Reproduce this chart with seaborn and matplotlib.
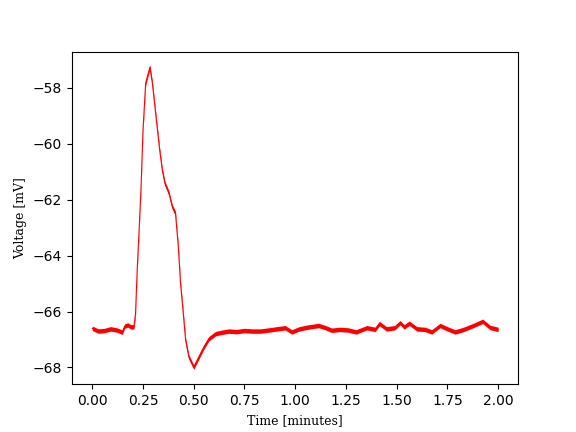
import numpy as np
import pandas as pd
import matplotlib
matplotlib.use("Agg")
import matplotlib.pyplot as plt
import seaborn as sns

# Values
time_min = [0.00, 0.03, 0.06, 0.09, 0.12, 0.148, 0.16, 0.175, 0.19, 0.205,
            0.213, 0.222, 0.230, 0.240, 0.250, 0.263, 0.275, 0.284, 0.296, 0.312,
            0.332, 0.345, 0.358, 0.378, 0.394, 0.410, 0.424, 0.435, 0.447, 0.460,
            0.476, 0.500, 0.525, 0.550, 0.575, 0.608, 0.640, 0.673, 0.710, 0.750,
            0.790, 0.828, 0.870, 0.910, 0.951, 0.983, 1.020, 1.060, 1.115, 1.150,
            1.180, 1.220, 1.260, 1.300, 1.353, 1.394, 1.415, 1.450, 1.490, 1.517,
            1.537, 1.562, 1.600, 1.640, 1.673, 1.714, 1.750, 1.788, 1.830, 1.878,
            1.924, 1.960, 2.000]
voltage_mV = [-66.60, -66.70, -66.68, -66.62, -66.66, -66.74, -66.52, -66.48, -66.55, -66.55,
              -66.08, -64.40, -63.20, -61.60, -59.50, -57.83, -57.50, -57.26, -57.83, -58.90,
              -60.22, -60.94, -61.42, -61.77, -62.25, -62.49, -63.69, -65.00, -65.96, -67.03,
              -67.63, -67.99, -67.63, -67.27, -66.97, -66.79, -66.74, -66.70, -66.72, -66.68,
              -66.70, -66.70, -66.66, -66.62, -66.58, -66.73, -66.62, -66.56, -66.50, -66.58,
              -66.67, -66.64, -66.66, -66.73, -66.58, -66.64, -66.43, -66.62, -66.58, -66.40,
              -66.55, -66.42, -66.62, -66.64, -66.73, -66.50, -66.62, -66.73, -66.64, -66.50,
              -66.35, -66.57, -66.64]
noise_halfwidth_mV = 0.08

df = pd.DataFrame({"t": time_min, "v": voltage_mV})

fig, ax = plt.subplots(figsize=(5.76, 4.32), dpi=100)
ax.fill_between(df["t"], df["v"] - noise_halfwidth_mV, df["v"] + noise_halfwidth_mV,
                color="red", linewidth=0)
sns.lineplot(data=df, x="t", y="v", color="red", linewidth=0.8, ax=ax,
             estimator=None, sort=False)

ax.set_xlabel("Time [minutes]", family="DejaVu Serif", fontsize=9)
ax.set_ylabel("Voltage [mV]", family="DejaVu Serif", fontsize=9)
ax.set_xticks([0.0, 0.25, 0.5, 0.75, 1.0, 1.25, 1.5, 1.75, 2.0])
ax.set_yticks([-68, -66, -64, -62, -60, -58])
ax.set_xlim(-0.1, 2.1)
ax.set_ylim(-68.61, -56.71)

fig.savefig("out.png", dpi=100)
